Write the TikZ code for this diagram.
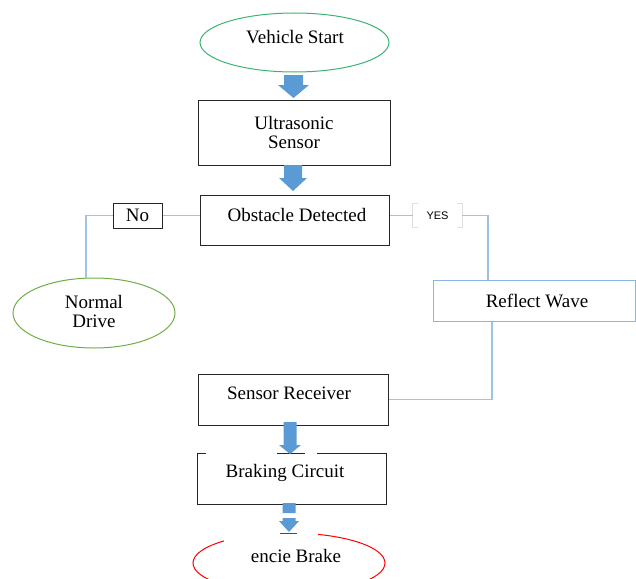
\documentclass[tikz,border=0pt]{standalone}
\usepackage{fontspec}
\setmainfont{Liberation Serif}
\newfontfamily\yesfont{Liberation Sans}
\usetikzlibrary{shapes.geometric}
\definecolor{startgreen}{RGB}{60,179,113}
\definecolor{drivegreen}{RGB}{112,173,71}
\definecolor{arrowblue}{RGB}{91,155,213}
\definecolor{lineblue}{RGB}{157,195,230}
\definecolor{boxblue}{RGB}{142,180,227}
\newcommand\blockarrow[6]{%
 \fill[arrowblue] (#1-#2,#4) -- (#1+#2,#4) -- (#1+#2,#5) -- (#1+#3,#5) -- (#1,#6) -- (#1-#3,#5) -- (#1-#2,#5) -- cycle;}
\begin{document}
\begin{tikzpicture}[x=1pt,y=-1pt,
  txt/.style={font=\fontsize{19}{19}\selectfont, inner sep=0pt, align=center},
  box/.style={rectangle, draw=black!85, line width=1pt, inner sep=0pt},
  oval/.style={ellipse, line width=1pt, inner sep=0pt},
  conn/.style={draw=lineblue, line width=1.2pt}]
\useasboundingbox (0,0) rectangle (636,578);
% shapes
\node[oval, draw=startgreen, minimum width=189pt, minimum height=59pt] (vs) at (294.5,42.5) {};
\node[txt] (vst) at (295,37) {Vehicle Start};
\node[box, minimum width=192pt, minimum height=65pt] (us) at (294,132.5) {};
\node[txt] (ust) at (294,132.5) {Ultrasonic\\Sensor};
\node[box, minimum width=189pt, minimum height=50pt] (od) at (294.5,220) {};
\node[txt] (odt) at (297,215) {Obstacle Detected};
\node[box, minimum width=49pt, minimum height=25pt] (no) at (137.5,215.5) {};
\node[txt] (not) at (137.5,215.5) {No};
\node[oval, draw=drivegreen, minimum width=162pt, minimum height=70pt] (nd) at (94,313) {};
\node[txt] (ndt) at (94,311.5) {Normal\\Drive};
\node[rectangle, inner sep=0pt, minimum width=49pt, minimum height=23pt] (yes) at (437.5,215.5) {};
\node[inner sep=0pt, font=\yesfont\fontsize{11}{12}\selectfont] (yest) at (437.5,216) {YES};
\node[rectangle, draw=boxblue, line width=1pt, inner sep=0pt, minimum width=202pt, minimum height=41pt] (rw) at (534,300.5) {};
\node[txt] (rwt) at (537,300.5) {Reflect Wave};
\node[box, minimum width=190pt, minimum height=51pt] (sr) at (293,399.5) {};
\node[txt] (srt) at (289,393) {Sensor Receiver};
\node[box, minimum width=189pt, minimum height=51pt] (bc) at (291.5,478.5) {};
\node[txt] (bct) at (285,473) {Braking Circuit};
\node[oval, draw=red, minimum width=192pt, minimum height=60pt] (vb) at (289,563) {};
% YES bracket border
\draw[gray!25, line width=1.2pt] ([xshift=5pt]yes.north west) -- (yes.north west) -- (yes.south west) -- ([xshift=5pt]yes.south west);
\draw[gray!25, line width=1.2pt] ([xshift=-5pt]yes.north east) -- (yes.north east) -- (yes.south east) -- ([xshift=-5pt]yes.south east);
% connectors
\draw[conn] (no.east) -- (no.east -| od.west);
\draw[conn] (no.west) -| ([xshift=-8pt]nd.north);
\draw[conn] (yes.west -| od.east) -- (yes.west);
\draw[conn] (yes.east) -| ([xshift=-46pt]rw.north);
\draw[conn] ([xshift=-42pt]rw.south) |- (sr.east);
% gaps in Braking Circuit top border
\draw[white, line width=2pt] (206,453) -- (277,453);
\draw[white, line width=2pt] (305,453) -- (317,453);
% white cover over red ellipse top
\fill[white] (224,527) rectangle (318,546);
\draw[red, line width=1pt] (280,533.5) -- (297,533.5);
% block arrows
\blockarrow{293.5}{9.5}{15.5}{75}{85}{98}
\blockarrow{293}{9}{14}{165}{178}{191}
\blockarrow{290}{6.5}{11}{422}{445}{454}
\blockarrow{289}{6.5}{10}{503}{513}{513}
\blockarrow{289}{6.5}{10}{518}{521}{532}
\node[txt] (vbt) at (296,556) {encie Brake};
\end{tikzpicture}
\end{document}
